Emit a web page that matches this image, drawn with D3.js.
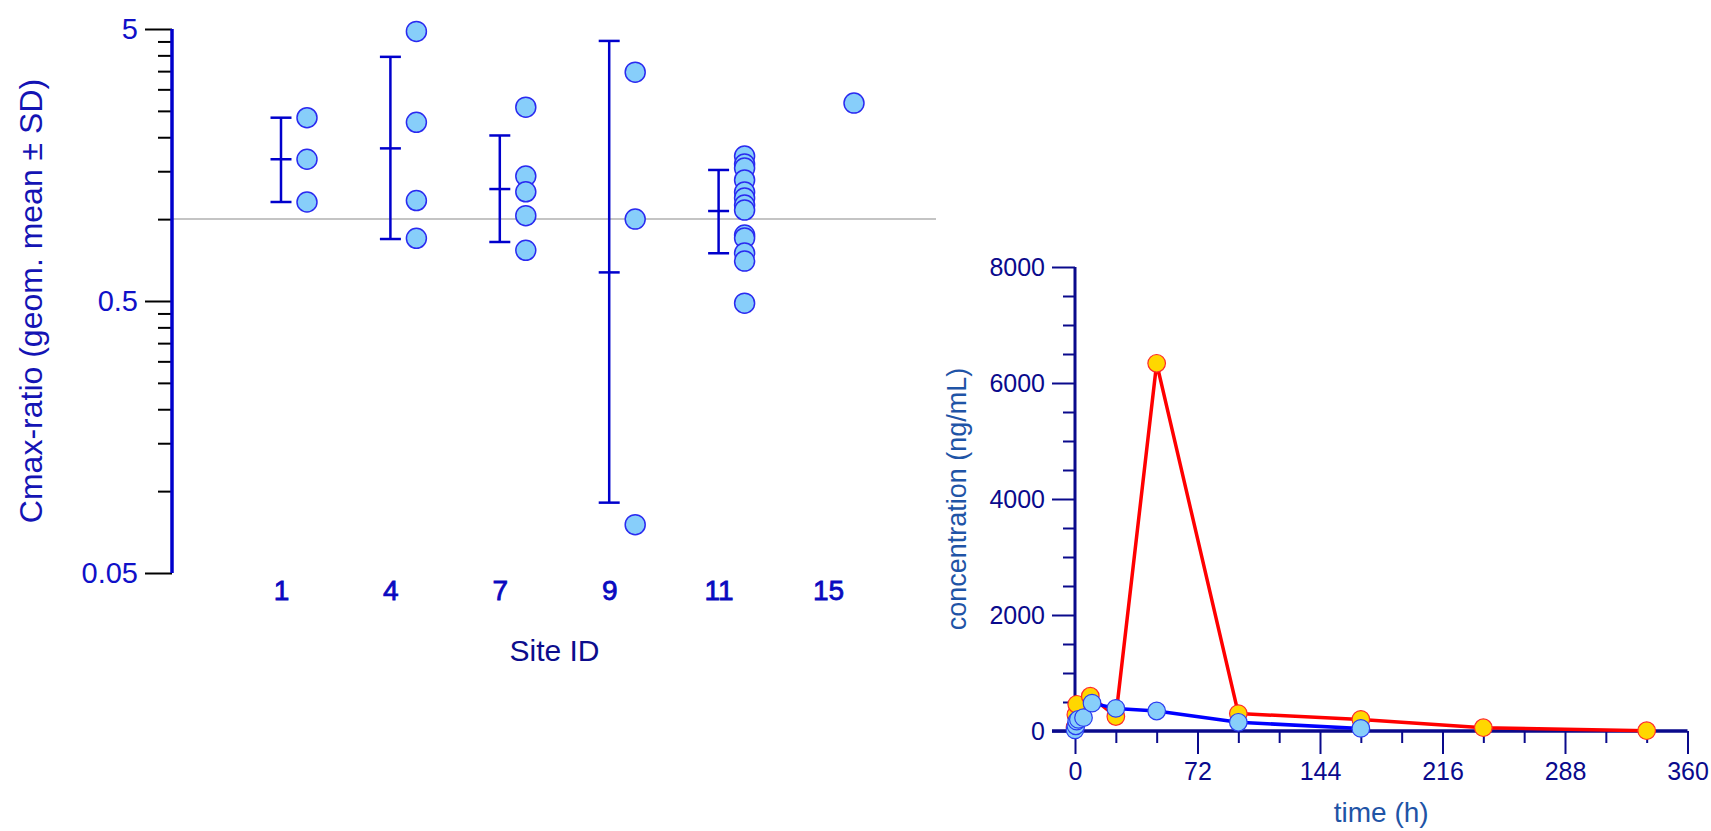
<!DOCTYPE html>
<html>
<head>
<meta charset="utf-8">
<script src="https://cdn.jsdelivr.net/npm/d3@7"></script>
<style>
  html, body { margin: 0; padding: 0; background: #fff; }
  svg { display: block; font-family: "Liberation Sans", Arial, sans-serif; }
</style>
</head>
<body>
<svg id="chart" width="1711" height="831"></svg>
<script>
// ---------- Left panel data: Cmax-ratio by site ----------
const sites = ["1", "4", "7", "9", "11", "15"];
const siteValues = [
  [2.36, 1.66, 1.156],
  [4.90, 2.27, 1.17, 0.85],
  [2.58, 1.44, 1.26, 1.03, 0.768],
  [3.47, 1.00, 0.0753],
  [1.706, 1.594, 1.541, 1.393, 1.258, 1.196, 1.127, 1.080, 0.874, 0.852, 0.750, 0.701, 0.491],
  [2.67]
];
const geoMean = [1.66, 1.82, 1.29, 0.637, 1.071, null];
const sdLow   = [1.156, 0.845, 0.824, 0.0907, 0.749, null];
const sdHigh  = [2.36, 3.95, 2.03, 4.52, 1.516, null];
const referenceRatio = 1;
const ratioMajorTicks = [0.05, 0.5, 5];
const ratioMinorTicks = [0.1, 0.15, 0.2, 0.25, 0.3, 0.35, 0.4, 0.45, 1, 1.5, 2, 2.5, 3, 3.5, 4, 4.5];

// ---------- Right panel data: concentration vs time ----------
const timeRed = [0, 0.5, 1, 9, 24, 48, 96, 168, 240, 336];
const concRed = [60, 280, 460, 600, 250, 6340, 300, 200, 57, 5];
const timeBlue = [0, 0.5, 1, 2, 5, 10, 24, 48, 96, 168];
const concBlue = [20, 90, 170, 200, 230, 480, 390, 345, 150, 45];
const concMajorTicks = [0, 2000, 4000, 6000, 8000];
const concMinorTicks = [500, 1000, 1500, 2500, 3000, 3500, 4500, 5000, 5500, 6500, 7000, 7500];
const timeMajorTicks = [0, 72, 144, 216, 288, 360];
const timeMinorTicks = [24, 48, 96, 120, 168, 192, 240, 264, 312, 336];

const svg = d3.select("#chart");
svg.append("rect").attr("width", 1711).attr("height", 831).attr("fill", "#fff");

// ================= LEFT PANEL =================
const L = svg.append("g");
const xS = d3.scalePoint().domain(sites).range([281, 828]);
const yS = d3.scaleLog().domain([0.05, 5]).range([573, 29]);
const axisX = 172;
const ptOffset = 26;
const blue = "#1010c8";

// reference line
L.append("line")
  .attr("x1", axisX).attr("x2", 936)
  .attr("y1", yS(referenceRatio)).attr("y2", yS(referenceRatio))
  .attr("stroke", "#c4c4c4").attr("stroke-width", 2);

// y axis ticks (major with labels, minor without)
const yMajor = L.append("g").attr("transform", `translate(${axisX},0)`)
  .call(d3.axisLeft(yS).tickValues(ratioMajorTicks).tickSize(27).tickSizeOuter(0)
    .tickPadding(7).tickFormat(d => String(d)));
const yMinor = L.append("g").attr("transform", `translate(${axisX},0)`)
  .call(d3.axisLeft(yS).tickValues(ratioMinorTicks).tickSize(14).tickSizeOuter(0).tickFormat(""));
[yMajor, yMinor].forEach(g => {
  g.select(".domain").remove();
  g.selectAll(".tick line").attr("stroke", "#000").attr("stroke-width", 2);
});
yMajor.selectAll(".tick text")
  .attr("fill", blue).attr("font-size", 29).attr("font-family", "Liberation Sans, Arial, sans-serif");

// y axis line
L.append("line")
  .attr("x1", axisX).attr("x2", axisX)
  .attr("y1", yS(5)).attr("y2", yS(0.05))
  .attr("stroke", "#0000cc").attr("stroke-width", 3.5);

// y label
L.append("text")
  .attr("transform", `translate(42,${(yS(5) + yS(0.05)) / 2}) rotate(-90)`)
  .attr("text-anchor", "middle")
  .attr("fill", "#1414b4").attr("font-size", 32)
  .text("Cmax-ratio (geom. mean \u00b1 SD)");

// x tick labels
const xAxisG = L.append("g").attr("transform", "translate(0,580)")
  .call(d3.axisBottom(xS).tickSize(0).tickPadding(0));
xAxisG.select(".domain").remove();
xAxisG.selectAll(".tick text")
  .attr("fill", "#0a0ac0").attr("font-size", 28)
  .attr("stroke", "#0a0ac0").attr("stroke-width", 0.8)
  .attr("font-family", "Liberation Sans, Arial, sans-serif");

// x title
L.append("text")
  .attr("x", (xS("1") + xS("15")) / 2).attr("y", 661)
  .attr("text-anchor", "middle")
  .attr("fill", "#0c0c8c").attr("font-size", 30)
  .text("Site ID");

// error bars
const capHalf = 10.5;
sites.forEach((s, i) => {
  if (geoMean[i] == null) return;
  const x = xS(s);
  const g = L.append("g").attr("stroke", "#0000cc").attr("stroke-width", 2.5);
  g.append("line").attr("x1", x).attr("x2", x).attr("y1", yS(sdHigh[i])).attr("y2", yS(sdLow[i]));
  [sdHigh[i], geoMean[i], sdLow[i]].forEach(v => {
    g.append("line").attr("x1", x - capHalf).attr("x2", x + capHalf).attr("y1", yS(v)).attr("y2", yS(v));
  });
});

// points
sites.forEach((s, i) => {
  L.append("g").selectAll("circle")
    .data(siteValues[i])
    .join("circle")
    .attr("cx", xS(s) + ptOffset)
    .attr("cy", d => yS(d))
    .attr("r", 10)
    .attr("fill", "#87cefa")
    .attr("stroke", "#2a2af0")
    .attr("stroke-width", 1.5);
});

// ================= RIGHT PANEL =================
const R = svg.append("g");
const xT = d3.scaleLinear().domain([0, 360]).range([1075, 1687.5]);
const yC = d3.scaleLinear().domain([0, 8000]).range([731, 267]);
const navy = "#0a0a8c";

const yCMajor = R.append("g").attr("transform", `translate(${xT(0)},0)`)
  .call(d3.axisLeft(yC).tickValues(concMajorTicks).tickSize(23).tickSizeOuter(0).tickPadding(7)
    .tickFormat(d3.format("d")));
const yCMinor = R.append("g").attr("transform", `translate(${xT(0)},0)`)
  .call(d3.axisLeft(yC).tickValues(concMinorTicks).tickSize(12).tickSizeOuter(0).tickFormat(""));
const xTMajor = R.append("g").attr("transform", `translate(0,${yC(0)})`)
  .call(d3.axisBottom(xT).tickValues(timeMajorTicks).tickSize(23).tickSizeOuter(0).tickPadding(8)
    .tickFormat(d3.format("d")));
const xTMinor = R.append("g").attr("transform", `translate(0,${yC(0)})`)
  .call(d3.axisBottom(xT).tickValues(timeMinorTicks).tickSize(12).tickSizeOuter(0).tickFormat(""));
[yCMajor, yCMinor, xTMajor, xTMinor].forEach(g => {
  g.select(".domain").remove();
  g.selectAll(".tick line").attr("stroke", navy).attr("stroke-width", 2);
});
[yCMajor, xTMajor].forEach(g => {
  g.selectAll(".tick text")
    .attr("fill", navy).attr("font-size", 25)
    .attr("font-family", "Liberation Sans, Arial, sans-serif");
});

// axis lines
R.append("line").attr("x1", xT(0)).attr("x2", xT(0)).attr("y1", yC(8000)).attr("y2", yC(0))
  .attr("stroke", navy).attr("stroke-width", 3);
R.append("line").attr("x1", xT(0) - 23).attr("x2", xT(360)).attr("y1", yC(0)).attr("y2", yC(0))
  .attr("stroke", navy).attr("stroke-width", 3.5);

// titles
R.append("text")
  .attr("transform", `translate(966,${(yC(0) + yC(8000)) / 2}) rotate(-90)`)
  .attr("text-anchor", "middle")
  .attr("fill", "#1f54a6").attr("font-size", 27)
  .text("concentration (ng/mL)");
R.append("text")
  .attr("x", (xT(0) + xT(360)) / 2).attr("y", 822)
  .attr("text-anchor", "middle")
  .attr("fill", "#1f54a6").attr("font-size", 28)
  .text("time (h)");

// series
const redData = timeRed.map((t, i) => [t, concRed[i]]);
const blueData = timeBlue.map((t, i) => [t, concBlue[i]]);
const line = d3.line().x(d => xT(d[0])).y(d => yC(d[1]));

R.append("path").datum(redData).attr("d", line)
  .attr("fill", "none").attr("stroke", "#ff0000").attr("stroke-width", 3.5).attr("stroke-linejoin", "round");
R.append("g").selectAll("circle").data(redData).join("circle")
  .attr("cx", d => xT(d[0])).attr("cy", d => yC(d[1])).attr("r", 8.8)
  .attr("fill", "#ffd700").attr("stroke", "#ff2a2a").attr("stroke-width", 1.2);

R.append("path").datum(blueData).attr("d", line)
  .attr("fill", "none").attr("stroke", "#0000ff").attr("stroke-width", 3.5).attr("stroke-linejoin", "round");
R.append("g").selectAll("circle").data(blueData).join("circle")
  .attr("cx", d => xT(d[0])).attr("cy", d => yC(d[1])).attr("r", 8.8)
  .attr("fill", "#87cefa").attr("stroke", "#2a3cf0").attr("stroke-width", 1.2);
</script>
</body>
</html>
